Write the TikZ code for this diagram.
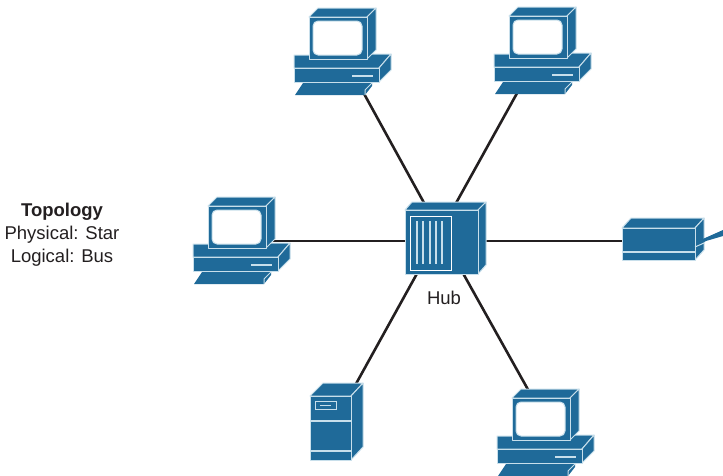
\documentclass[tikz,border=0pt]{standalone}
\usepackage{fontspec}
\setmainfont{Liberation Sans}
\definecolor{dev}{HTML}{1F6A99}
\definecolor{edge}{HTML}{C8DFEB}
\definecolor{wire}{HTML}{231F20}
\tikzset{
  x=1pt,y=-1pt,
  face/.style={fill=dev,draw=edge,line width=1pt,line join=round},
  soft/.style={draw=edge,line width=1.9pt},
  link/.style={draw=wire,line width=2.6pt},
  label/.style={inner sep=0pt,text=wire,font=\fontsize{18.5}{23}\selectfont,align=center},
  pcicon/.pic={
    % base
    \path[face] (0,47) -- (15,47) -- (97,46) -- (85,60) -- (0,60) -- cycle;
    \path[face] (85,60) -- (97,46) -- (97,62) -- (85,74) -- cycle;
    \path[face] (0,60) rectangle (85,74);
    \draw[soft] (58,68) -- (79,68);
    % keyboard
    \path[fill=dev] (9,75) -- (78,75) -- (78,78) -- (71,87) -- (1,87) -- cycle;
    \draw[edge,line width=1pt] (78,75) -- (71,82) -- (71,87);
    % monitor
    \path[face] (15,9) -- (24,0) -- (82,0) -- (73,9) -- cycle;
    \path[face] (73,9) -- (82,0) -- (82,42) -- (73,51) -- cycle;
    \path[face] (15,9) rectangle (73,51);
    \path[fill=white,draw=edge,line width=1pt,rounded corners=5pt] (19,13) rectangle (68,47);
  },
  hubicon/.pic={
    \path[face] (0,8) -- (7,0) -- (81,0) -- (73,8) -- cycle;
    \path[face] (73,8) -- (81,0) -- (81,63) -- (73,72) -- cycle;
    \path[face] (0,8) rectangle (73,72);
    \draw[white,line width=1pt] (5,14) rectangle (46,68);
    \foreach \lx in {12,18,25,31,37}
      \draw[edge,line width=1.2pt] (\lx,19) -- (\lx,62);
  },
  printericon/.pic={
    \path[face] (0,10) -- (9,0) -- (82,0) -- (73,10) -- cycle;
    \path[face] (73,10) -- (82,0) -- (82,32) -- (73,42) -- cycle;
    \path[face] (0,10) rectangle (73,42);
    \draw[soft] (0,34) -- (73,34);
    \path[fill=dev] (74,24) -- (101,12) -- (101,18) -- (84,23) -- (74,28) -- cycle;
    \draw[edge,line width=1pt] (73,29) -- (82,25);
  },
  servericon/.pic={
    \path[face] (0,13) -- (13,0) -- (53,0) -- (41,13) -- cycle;
    \path[face] (41,13) -- (53,0) -- (53,64) -- (41,77) -- cycle;
    \path[face] (0,13) rectangle (41,77);
    \draw[soft] (0,38) -- (41,38);
    \draw[soft] (0,68) -- (41,68);
    \draw[edge,line width=1pt] (5,18) rectangle (26,26);
    \draw[edge,line width=1pt] (10,22) -- (21,22);
  },
}
\begin{document}
\begin{tikzpicture}
\useasboundingbox (0,0) rectangle (723,475);
\clip (0,0) rectangle (723,475);

% anchor points: devices are painted over the ends of the links
\coordinate (hubA) at (445,241);
\coordinate (hubB) at (435,241);
\coordinate (hubC) at (445,241);
\node[inner sep=0pt,minimum size=1pt] (pcTopLeft) at (340,50) {};
\node[inner sep=0pt,minimum size=1pt] (pcTopRight) at (541,50) {};
\node[inner sep=0pt,minimum size=1pt] (pcLeft) at (240,241) {};
\node[inner sep=0pt,minimum size=1pt] (printer) at (660,241) {};
\node[inner sep=0pt,minimum size=1pt] (server) at (336,420) {};
\node[inner sep=0pt,minimum size=1pt] (pcBottom) at (545,420) {};

\draw[link] (hubA) -- (pcTopLeft);
\draw[link] (hubB) -- (pcTopRight);
\draw[link] (hubC) -- (pcLeft);
\draw[link] (hubC) -- (printer);
\draw[link] (hubB) -- (server);
\draw[link] (hubA) -- (pcBottom);

\pic at (294,8) {pcicon};
\pic at (494,7) {pcicon};
\pic at (193,197) {pcicon};
\pic at (497,389) {pcicon};
\pic at (405,202) {hubicon};
\pic at (622,218) {printericon};
\pic at (310,383) {servericon};

\node[label] (hubLabel) at (444,298) {Hub};
\node[label] (topology) at (62,235) {\textbf{Topology}\\Physical: Star\\Logical: Bus};
\end{tikzpicture}
\end{document}
